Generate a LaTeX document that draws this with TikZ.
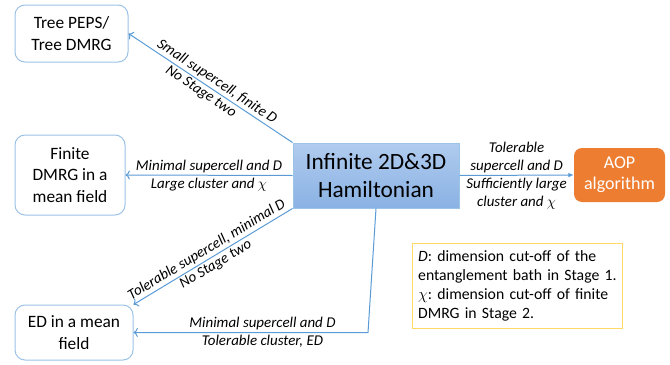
\documentclass[tikz,border=0pt]{standalone}
\usepackage{fontspec}
\setmainfont{Carlito}
\usepackage{xcolor}
\usetikzlibrary{positioning, arrows.meta}

\definecolor{lineblue}{RGB}{91,155,213}
\definecolor{boxblue}{RGB}{157,195,230}
\definecolor{hamtop}{RGB}{176,203,238}
\definecolor{hambot}{RGB}{138,178,228}
\definecolor{aoporange}{RGB}{237,125,49}
\definecolor{legendyellow}{RGB}{255,217,102}

\begin{document}
\begin{tikzpicture}[x=0.75pt, y=-0.75pt,
    whitebox/.style={draw=boxblue, line width=0.75pt, rounded corners=7.5pt, fill=white,
        align=center, inner sep=2pt, font=\fontsize{13}{16}\selectfont},
    conn/.style={draw=lineblue, line width=0.75pt, -{Latex[length=4pt,width=3.5pt]}},
    lbl/.style={font=\fontsize{11.2}{13.5}\selectfont\itshape, inner sep=1.5pt, align=center}]
  \useasboundingbox (0,0) rectangle (670,364);

  % boxes
  \node[whitebox, minimum width=84.75pt, minimum height=42.75pt] (tree) at (71.5,33.5)
      {Tree PEPS/\\Tree DMRG};
  \node[whitebox, minimum width=82.5pt, minimum height=60pt] (finite) at (70,175)
      {Finite\\DMRG in a\\mean field};
  \node[whitebox, minimum width=88.5pt, minimum height=41.25pt] (ed) at (74,332.5)
      {ED in a mean\\field};
  \node[draw=boxblue, line width=0.75pt, top color=hamtop, bottom color=hambot,
        minimum width=124.5pt, minimum height=48.75pt, align=center,
        font=\fontsize{17.5}{20.5}\selectfont] (ham) at (376,175.5)
      {Infinite 2D\&3D\\Hamiltonian};
  \node[fill=aoporange, rounded corners=6pt, text=white, minimum width=68.25pt,
        minimum height=40.5pt, align=center, font=\fontsize{13.5}{16}\selectfont] (aop) at (619.5,175)
      {AOP\\algorithm};
  \node[draw=legendyellow, line width=0.75pt, text width=149pt, align=left, inner sep=4.5pt,
        minimum height=63.75pt, font=\fontsize{11.8}{14.3}\selectfont\frenchspacing] (legend) at (517.5,285.5)
      {\textit{D}: dimension cut-off of the entanglement bath in Stage 1.
       $\chi$: dimension cut-off of finite DMRG in Stage 2.};

  \coordinate (bend) at (368,332.5);

  % connectors
  \draw[conn, <-] (tree.east) --
      node[lbl, sloped, above, pos=0.51] {Small supercell, finite D}
      node[lbl, sloped, below, pos=0.47] {No Stage two} (ham.north west);
  \draw[conn, <-] (finite.east) --
      node[lbl, above] {Minimal supercell and D}
      node[lbl, below] {Large cluster and $\chi$} (ham.west);
  \draw[conn] (ham.east) --
      node[lbl, above] {Tolerable\\supercell and D}
      node[lbl, below] {Sufficiently large\\cluster and $\chi$} (aop.west);
  \draw[conn, <-] (ed.north east) --
      node[lbl, sloped, above, pos=0.49] {Tolerable supercell, minimal D}
      node[lbl, sloped, below, pos=0.49] {No Stage two} (ham.south west);
  \draw[conn, <-] (ed.east) --
      node[lbl, above, pos=0.55] {Minimal supercell and D}
      node[lbl, below, pos=0.55] {Tolerable cluster, ED} (bend) -- (ham.south);

\end{tikzpicture}
\end{document}
